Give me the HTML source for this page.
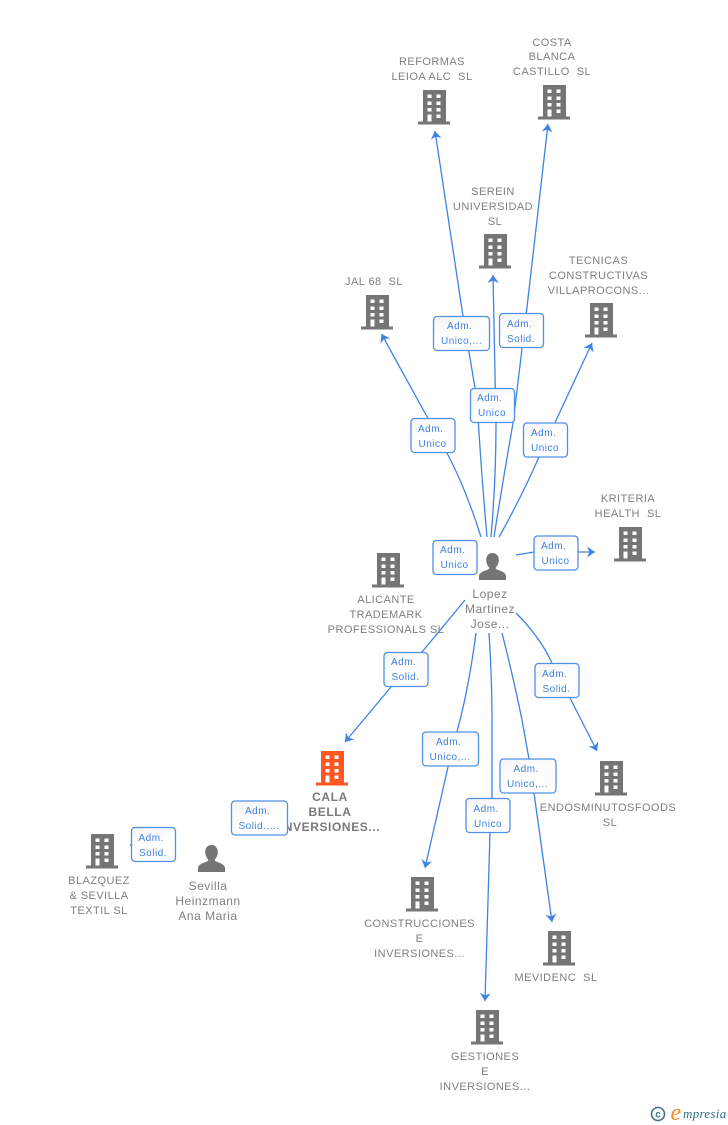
<!DOCTYPE html>
<html>
<head>
<meta charset="utf-8">
<style>
html,body{margin:0;padding:0;background:#fff;width:728px;height:1125px;overflow:hidden}
svg{display:block}
.n{font:11px "Liberation Sans",sans-serif;letter-spacing:.45px;fill:#7f7f7f;text-anchor:middle}
.p{font:12px "Liberation Sans",sans-serif;letter-spacing:.5px;fill:#7f7f7f;text-anchor:middle}
.b{font:bold 12px "Liberation Sans",sans-serif;letter-spacing:.6px;fill:#7a7a7a;text-anchor:middle}
.l{font:10px "Liberation Sans",sans-serif;letter-spacing:.5px;fill:#3f80e0}
.c{fill:none;stroke:#3f83e4;stroke-width:1.300}
.box{fill:url(#g);stroke:#4e90e6;stroke-width:1.300}
.ic{filter:url(#s)}
</style>
</head>
<body>
<svg width="728" height="1125" viewBox="0 0 728 1125" xmlns="http://www.w3.org/2000/svg">
<defs>
<filter id="s" x="-10%" y="-10%" width="120%" height="120%"><feGaussianBlur stdDeviation="0.35"/></filter>
<linearGradient id="g" x1="0" y1="0" x2="0.4" y2="1"><stop offset="0" stop-color="#f3f3f3"/><stop offset="0.6" stop-color="#fff"/></linearGradient>
<marker id="a" viewBox="0 0 8 11" refX="8" refY="5.500" markerWidth="8" markerHeight="11" markerUnits="userSpaceOnUse" orient="auto"><path d="M8 5.500L0 0L2.500 5.500L0 11Z" fill="#3f83e4"/></marker>
<symbol id="bd" width="32" height="35" viewBox="0 0 32 35" overflow="visible">
<path fill-rule="evenodd" d="M5 0H28V31.500H32V34.500H0V31.500H5ZM9.500 4.500V8H13.500V4.500ZM18.500 4.500V8H22.500V4.500ZM9.500 11.500V15H13.500V11.500ZM18.500 11.500V15H22.500V11.500ZM9.500 18V21.500H13.500V18ZM18.500 18V21.500H22.500V18ZM9.500 24.500V31.500H13.500V24.500ZM18.500 24.500V28H22.500V24.500Z"/>
</symbol>
<symbol id="pr" width="27" height="27" viewBox="0 0 27 27">
<path d="M13.500 0C17.500 0 19.800 3 19.800 7C19.800 10.500 18.200 13 16.800 14.500V15.800C19.500 17.500 26 18.500 27 22.500V27H0V22.500C1 18.500 7.500 17.500 10.200 15.800V14.500C8.800 13 7.200 10.500 7.200 7C7.200 3 9.500 0 13.500 0Z" fill="#757575"/>
</symbol>
</defs>

<!-- connectors -->
<path class="c" d="M481 537Q466 489 447 453L381.500 334" marker-end="url(#a)"/>
<path class="c" d="M487 537Q481 470 477 400L463 316L435 131" marker-end="url(#a)"/>
<path class="c" d="M491 537Q496 480 496 423L493 275" marker-end="url(#a)"/>
<path class="c" d="M494 537Q503 480 513 423L526 316L548 124" marker-end="url(#a)"/>
<path class="c" d="M499 537Q520 500 539 457L592 343" marker-end="url(#a)"/>
<path class="c" d="M516 555L534 552M578 552L595 552" marker-end="url(#a)"/>
<path class="c" d="M465 600L422 652L391 687L345 742" marker-end="url(#a)"/>
<path class="c" d="M476 633Q469 685 460 720L448 767L425 868" marker-end="url(#a)"/>
<path class="c" d="M489 633Q492 680 492 720L492 798L490 833L485 1001" marker-end="url(#a)"/>
<path class="c" d="M502 633Q514 680 522 720L529 759L534 793L552 922" marker-end="url(#a)"/>
<path class="c" d="M516 613Q540 637 552 663L570 698L597 751" marker-end="url(#a)"/>
<path class="c" d="M130 845L133 845"/>

<!-- buildings -->
<g fill="#757575" class="ic">
<use href="#bd" x="418" y="90"/>
<use href="#bd" x="538" y="85"/>
<use href="#bd" x="479" y="234"/>
<use href="#bd" x="361" y="295"/>
<use href="#bd" x="585" y="303"/>
<use href="#bd" x="614" y="527"/>
<use href="#bd" x="372" y="553"/>
<use href="#bd" x="86" y="834"/>
<use href="#bd" x="595" y="761"/>
<use href="#bd" x="406" y="877"/>
<use href="#bd" x="543" y="931"/>
<use href="#bd" x="471" y="1010"/>
</g>
<g fill="#ff5722" class="ic"><use href="#bd" x="316" y="751"/></g>
<g class="ic">
<use href="#pr" x="479" y="553"/>
<use href="#pr" x="198" y="845"/>
</g>

<!-- node labels -->
<text class="n" x="432" y="65">REFORMAS</text><text class="n" x="432" y="80" xml:space="preserve">LEIOA ALC  SL</text>
<text class="n" x="552" y="46">COSTA</text><text class="n" x="552" y="60">BLANCA</text><text class="n" x="552" y="75" xml:space="preserve">CASTILLO  SL</text>
<text class="n" x="493" y="195">SEREIN</text><text class="n" x="493" y="210">UNIVERSIDAD</text><text class="n" x="495" y="225">SL</text>
<text class="n" x="374" y="285" xml:space="preserve">JAL 68  SL</text>
<text class="n" x="598.500" y="264">TECNICAS</text><text class="n" x="598.500" y="279">CONSTRUCTIVAS</text><text class="n" x="598.500" y="294">VILLAPROCONS...</text>
<text class="n" x="628" y="502">KRITERIA</text><text class="n" x="628" y="517" xml:space="preserve">HEALTH  SL</text>
<text class="n" x="386" y="603">ALICANTE</text><text class="n" x="386" y="618">TRADEMARK</text><text class="n" x="386" y="633">PROFESSIONALS SL</text>
<text class="p" x="490" y="598">Lopez</text><text class="p" x="490" y="613">Martinez</text><text class="p" x="490" y="628">Jose...</text>
<text class="b" x="330" y="801">CALA</text><text class="b" x="330" y="816">BELLA</text><text class="b" x="330" y="831">INVERSIONES...</text>
<text class="n" x="99" y="884">BLAZQUEZ</text><text class="n" x="99" y="899">&amp; SEVILLA</text><text class="n" x="99" y="914">TEXTIL SL</text>
<text class="p" x="208" y="890">Sevilla</text><text class="p" x="208" y="905">Heinzmann</text><text class="p" x="208" y="920">Ana Maria</text>
<text class="n" x="608" y="811">ENDOSMINUTOSFOODS</text><text class="n" x="610" y="826">SL</text>
<text class="n" x="419.500" y="927">CONSTRUCCIONES</text><text class="n" x="419.500" y="942">E</text><text class="n" x="419.500" y="957">INVERSIONES...</text>
<text class="n" x="556" y="981" xml:space="preserve">MEVIDENC  SL</text>
<text class="n" x="485" y="1060">GESTIONES</text><text class="n" x="485" y="1075">E</text><text class="n" x="485" y="1090">INVERSIONES...</text>

<!-- connector labels -->
<g>
<rect class="box" x="433.500" y="316.500" width="56" height="34" rx="3.500"/><text class="l" x="447" y="329">Adm.</text><text class="l" x="441" y="344">Unico,...</text>
<rect class="box" x="499.500" y="313.500" width="44" height="34" rx="3.500"/><text class="l" x="507" y="327">Adm.</text><text class="l" x="507" y="342">Solid.</text>
<rect class="box" x="470.500" y="388.500" width="44" height="34" rx="3.500"/><text class="l" x="477" y="401">Adm.</text><text class="l" x="478" y="416">Unico</text>
<rect class="box" x="411" y="418.500" width="44" height="34" rx="3.500"/><text class="l" x="418" y="432">Adm.</text><text class="l" x="418.500" y="447">Unico</text>
<rect class="box" x="523.500" y="423" width="44" height="34" rx="3.500"/><text class="l" x="531" y="436">Adm.</text><text class="l" x="531" y="451">Unico</text>
<rect class="box" x="534" y="536" width="44" height="34" rx="3.500"/><text class="l" x="541" y="549">Adm.</text><text class="l" x="541.500" y="564">Unico</text>
<rect class="box" x="433" y="540.500" width="44" height="34" rx="3.500"/><text class="l" x="440" y="553">Adm.</text><text class="l" x="440.500" y="568">Unico</text>
<rect class="box" x="384" y="652.500" width="44" height="34" rx="3.500"/><text class="l" x="391" y="665">Adm.</text><text class="l" x="391.500" y="680">Solid.</text>
<rect class="box" x="535" y="663.500" width="44" height="34" rx="3.500"/><text class="l" x="542" y="677">Adm.</text><text class="l" x="542.500" y="692">Solid.</text>
<rect class="box" x="422.500" y="732" width="56" height="34" rx="3.500"/><text class="l" x="436" y="745">Adm.</text><text class="l" x="429.500" y="760">Unico,...</text>
<rect class="box" x="500" y="759" width="56" height="34" rx="3.500"/><text class="l" x="513.500" y="772">Adm.</text><text class="l" x="507" y="787">Unico,...</text>
<rect class="box" x="466" y="798.500" width="44" height="34" rx="3.500"/><text class="l" x="473.500" y="812">Adm.</text><text class="l" x="474" y="827">Unico</text>
<rect class="box" x="231.500" y="801" width="56" height="34" rx="3.500"/><text class="l" x="245" y="814">Adm.</text><text class="l" x="238.500" y="829">Solid.,...</text>
<rect class="box" x="131.500" y="827.500" width="44" height="34" rx="3.500"/><text class="l" x="138.500" y="841">Adm.</text><text class="l" x="139" y="856">Solid.</text>
</g>

<!-- logo -->
<circle cx="658" cy="1114" r="6.500" fill="none" stroke="#3f7186" stroke-width="1.600"/>
<text x="658" y="1117.500" text-anchor="middle" style="font:bold 10px 'Liberation Sans',sans-serif;fill:#3f7186">c</text>
<text x="670.500" y="1120" style="font:italic 24px 'Liberation Serif',serif;fill:#f08a24">e</text>
<text x="683" y="1118" style="font:italic 13px 'Liberation Serif',serif;letter-spacing:.3px;fill:#2f6f88">mpresia</text>
</svg>
</body>
</html>
